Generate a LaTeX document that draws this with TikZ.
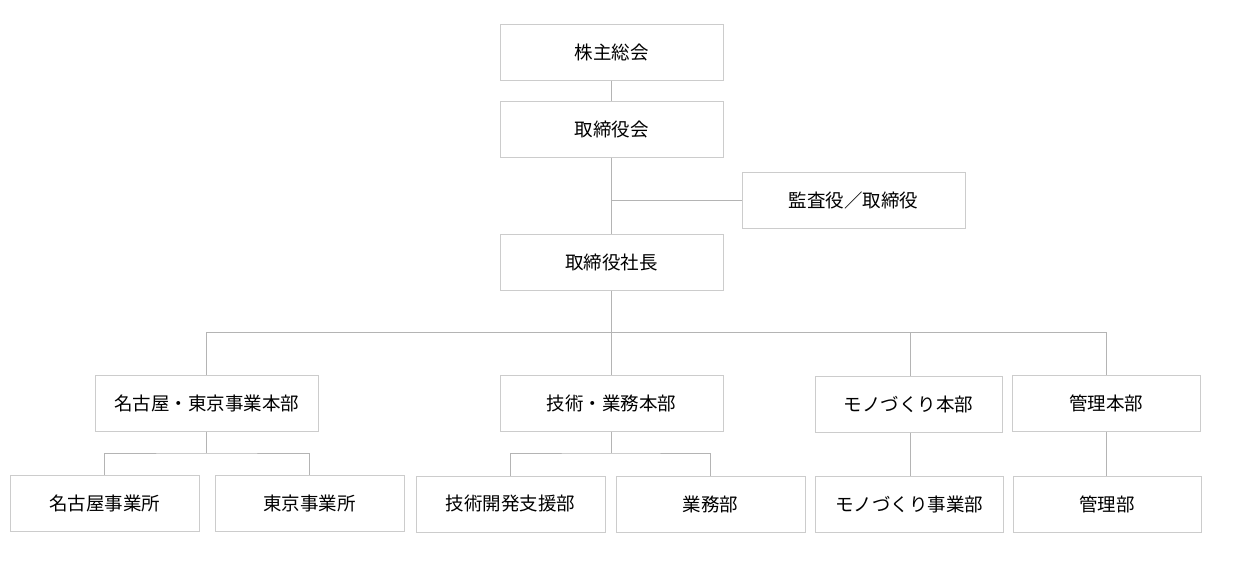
\documentclass[tikz,border=0pt]{standalone}
\usepackage{fontspec}
\newfontfamily\cjk{Noto Sans CJK JP}
\definecolor{boxline}{HTML}{CCCCCC}
\definecolor{conn}{HTML}{B4B4B4}
\begin{document}
\begin{tikzpicture}[x=1pt,y=-1pt,
  box/.style={draw=boxline,line width=1pt,fill=white,inner sep=0pt,font=\cjk\fontsize{18.5}{20}\selectfont,text=black},
  wbox/.style={box,minimum width=223pt,minimum height=56pt},
  nbox/.style={box,minimum width=189pt,minimum height=56pt},
  link/.style={draw=conn,line width=0.9pt}]
\useasboundingbox[fill=white] (0,0) rectangle (1240,576);
\node[wbox] (agm) at (611.5,52) {株主総会};
\node[wbox] (board) at (611.5,129) {取締役会};
\node[wbox] (audit) at (853.5,200) {監査役／取締役};
\node[wbox] (pres) at (611.5,262) {取締役社長};
\node[wbox] (nt) at (206.5,403) {名古屋・東京事業本部};
\node[wbox] (tb) at (611.5,403) {技術・業務本部};
\node[box,minimum width=187pt,minimum height=56pt] (mono) at (908.5,404) {モノづくり本部};
\node[box,minimum width=188pt,minimum height=56pt] (kanri) at (1106,403) {管理本部};
\node[nbox] (nag) at (104.5,503) {名古屋事業所};
\node[nbox] (tok) at (309.5,503) {東京事業所};
\node[nbox] (gij) at (510.5,504) {技術開発支援部};
\node[nbox] (gyo) at (710.5,504) {業務部};
\node[box,minimum width=188pt,minimum height=56pt] (monoj) at (909,504) {モノづくり事業部};
\node[box,minimum width=188pt,minimum height=56pt] (kanrib) at (1107,504) {管理部};
\coordinate (bus) at (611.5,332);
\coordinate (aud) at (611.5,200);
\coordinate (monox) at (910,332);
\coordinate (kanrix) at (1106.5,332);
\draw[link] (agm.south) -- (board.north);
\draw[link] (board.south) -- (pres.north);
\draw[link] (aud) -- (audit.west);
\draw[link] (pres.south) -- (bus);
\draw[link] (nt.north) |- (bus);
\draw[link] (bus) -- (tb.north);
\draw[link] (bus) -- (kanrix);
\draw[link] (monox) -- (monox |- mono.north);
\draw[link] (kanrix) -- (kanrix |- kanri.north);
\coordinate (nb) at (206.5,453);
\draw[link] (nt.south) -- (nb);
\draw[link] (nag.north) |- (nb) -| (tok.north);
\coordinate (tbb) at (611.5,453);
\draw[link] (tb.south) -- (tbb);
\draw[link] (gij.north) |- (tbb) -| (gyo.north);
\draw[link] (monox |- mono.south) -- (monox |- monoj.north);
\draw[link] (kanrix |- kanri.south) -- (kanrix |- kanrib.north);
\end{tikzpicture}
\end{document}
